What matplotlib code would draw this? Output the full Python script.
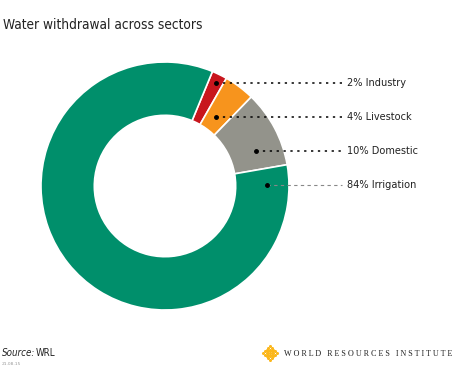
import matplotlib.pyplot as plt
import numpy as np

sectors = ["Industry", "Livestock", "Domestic", "Irrigation"]
shares = [2, 4, 10, 84]
colors = ["#C8161D", "#F7941D", "#93938B", "#008F6B"]
label_y = [0.833, 0.556, 0.285, 0.008]
dot_r = [0.93, 0.69, 0.79, 0.82]

plt.rcParams['font.family'] = ['DejaVu Sans']

fig = plt.figure(figsize=(4.55, 3.73), dpi=100)
ax = fig.add_axes([0, 0, 1, 1])

wedges, _ = ax.pie(shares, colors=colors, startangle=67.5, counterclock=False,
                   radius=1, wedgeprops=dict(width=0.43, edgecolor='white', linewidth=1.2))

# 124 px per unit, centre at (165, 186) px
ax.set_xlim(-165/124, 290/124)
ax.set_ylim(-187/124, 186/124)
ax.set_aspect('equal')
ax.axis('off')

def px(x, y):
    return (x - 165)/124, (186 - y)/124

for i, (name, s) in enumerate(zip(sectors, shares)):
    y = label_y[i]
    x = np.sqrt(dot_r[i]**2 - y**2)
    ax.plot(x, y, 'o', color='black', ms=2.5, zorder=5)
    if name == "Irrigation":
        ax.plot([x, 1.425], [y, y], color='#888888', lw=0.8, ls=(0, (3, 3)), zorder=4)
    else:
        ax.plot([x, 1.425], [y, y], color='black', lw=1.1, ls=(0, (1.5, 3)), zorder=4)
    ax.text(1.468, y, f"{s}% {name}", fontsize=7.8, fontstretch='condensed',
            va='center', ha='left', color='#222222')

ax.text(*px(3, 25), "Water withdrawal across sectors", fontsize=9.8, fontstretch='condensed',
        va='center', ha='left', color='#222222')
ax.text(*px(2, 353), "Source:", fontsize=7, style='italic', fontstretch='condensed',
        va='center', color='#222222')
ax.text(*px(36, 353), "WRL", fontsize=7, fontstretch='condensed', va='center', color='#222222')
ax.text(*px(2, 364), "21.08.15", fontsize=3.2, va='center', color='#999999')

# logo dots
lx, ly = px(270, 353)
for a in range(-4, 5):
    for b in range(-4, 5):
        if abs(a) + abs(b) <= 4 and (a + b) % 2 == 0:
            ax.plot(lx + a*1.7/124, ly + b*1.7/124, 'o', color='#FBB71B', ms=2.2, mew=0)
ax.text(*px(284, 353.5), "W O R L D   R E S O U R C E S   I N S T I T U T E",
        fontsize=5.9, family='Liberation Serif', va='center', ha='left', color='#222222')

fig.savefig("out.png", dpi=100)
